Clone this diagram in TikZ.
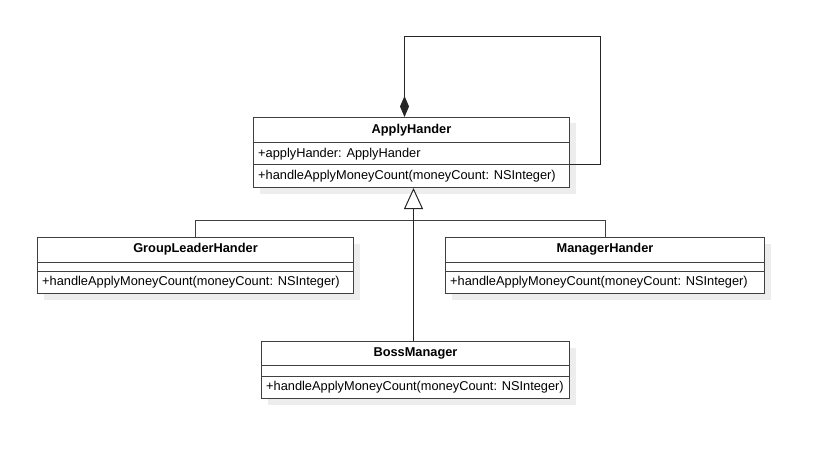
\documentclass[tikz,border=0pt]{standalone}
\usepackage{fontspec}
\setmainfont{Liberation Sans}
\usetikzlibrary{arrows.meta,calc,shadows}
\begin{document}
\begin{tikzpicture}[x=1pt, y=-1pt, font=\fontsize{12.8}{15}\selectfont]
    \tikzstyle{class_style} = [draw=black!75, line width=1pt, fill=white, rectangle, anchor=north west, inner sep=0, drop shadow={shadow xshift=6pt, shadow yshift=-6pt, fill=black!7, opacity=1}]
    \tikzstyle{title_style} = [font=\fontsize{12.8}{15}\selectfont\bfseries, inner sep=0]
    \tikzstyle{member_style} = [anchor=west, inner sep=0]
    \tikzstyle{line_style} = [black!75, line width=1pt]
    \tikzstyle{compose_style} = [-{Diamond[length=21pt, width=9pt]}, black!85, line width=1pt]
    \tikzstyle{inherit_style} = [-{Triangle[open, length=21pt, width=19pt, fill=white]}, black!85, line width=1pt]

    \useasboundingbox (0,0) rectangle (821,457);

    % classes
    \node[class_style, minimum width=316pt, minimum height=70pt] (apply) at (253,117) {};
    \node[class_style, minimum width=316pt, minimum height=56pt] (group) at (37,237) {};
    \node[class_style, minimum width=319pt, minimum height=56pt] (manager) at (445,237) {};
    \node[class_style, minimum width=308pt, minimum height=57pt] (boss) at (261,341) {};

    % compartments
    \draw[line_style] ($(apply.north west)+(0,26)$) -- ($(apply.north east)+(0,26)$);
    \draw[line_style] ($(apply.north west)+(0,48)$) -- ($(apply.north east)+(0,48)$);
    \draw[line_style] ($(group.north west)+(0,25)$) -- ($(group.north east)+(0,25)$);
    \draw[line_style] ($(group.north west)+(0,34)$) -- ($(group.north east)+(0,34)$);
    \draw[line_style] ($(manager.north west)+(0,25)$) -- ($(manager.north east)+(0,25)$);
    \draw[line_style] ($(manager.north west)+(0,34)$) -- ($(manager.north east)+(0,34)$);
    \draw[line_style] ($(boss.north west)+(0,24)$) -- ($(boss.north east)+(0,24)$);
    \draw[line_style] ($(boss.north west)+(0,35)$) -- ($(boss.north east)+(0,35)$);

    % texts
    \node[title_style] (apply_title) at ($(apply.north)+(0,13)$) {ApplyHander};
    \node[member_style] (apply_attr) at ($(apply.north west)+(5,37)$) {+applyHander: ApplyHander};
    \node[member_style] (apply_op) at ($(apply.north west)+(5,59)$) {+handleApplyMoneyCount(moneyCount: NSInteger)};
    \node[title_style] (group_title) at ($(group.north)+(0,12.5)$) {GroupLeaderHander};
    \node[member_style] (group_op) at ($(group.north west)+(5,45)$) {+handleApplyMoneyCount(moneyCount: NSInteger)};
    \node[title_style] (manager_title) at ($(manager.north)+(0,12.5)$) {ManagerHander};
    \node[member_style] (manager_op) at ($(manager.north west)+(5,45)$) {+handleApplyMoneyCount(moneyCount: NSInteger)};
    \node[title_style] (boss_title) at ($(boss.north)+(0,12)$) {BossManager};
    \node[member_style] (boss_op) at ($(boss.north west)+(5,46)$) {+handleApplyMoneyCount(moneyCount: NSInteger)};

    % relations
    \draw[compose_style] ($(apply.north east)+(0,48)$) -| ++(30,-128) -| ($(apply.north)+(-7,0)$);
    \draw[line_style] (group.north) -- ++(0,-17) -| (manager.north);
    \coordinate (boss_top) at ($(boss.north)+(-2,0)$);
    \draw[inherit_style] (boss_top) -- (boss_top |- apply.south);
\end{tikzpicture}
\end{document}
